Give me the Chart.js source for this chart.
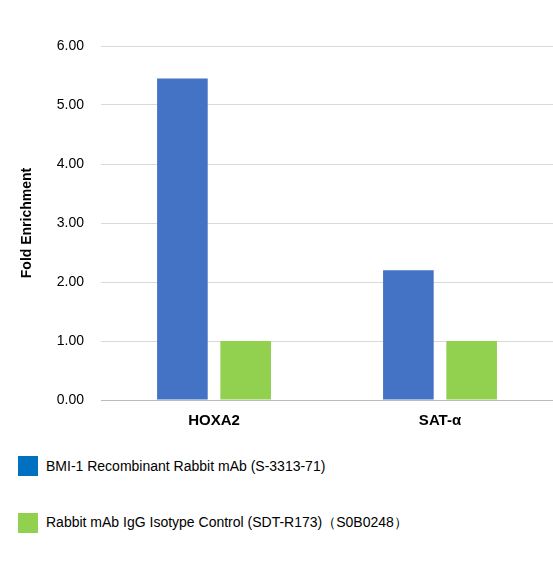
<!DOCTYPE html>
<html><head><meta charset="utf-8">
<script src="https://cdn.jsdelivr.net/npm/chart.js@4"></script>
<style>
body{margin:0;background:#fff;font-family:Arial,"Liberation Sans",sans-serif;}
#wrap{position:absolute;left:0;top:0;width:553px;height:434px;}
.leg{position:absolute;left:18px;font-size:14px;color:#000;display:flex;align-items:center;}
.sw{width:20px;height:20px;margin-right:8px;}
</style></head><body>
<div id="wrap"><canvas id="c"></canvas></div>
<div class="leg" style="top:456px"><div class="sw" style="background:#0070C0"></div><span id="l0"></span></div>
<div class="leg" style="top:513px"><div class="sw" style="background:#92D050"></div><span id="l1"></span></div>
<script>
const categories=["HOXA2","SAT-α"];
const seriesNames=["BMI-1 Recombinant Rabbit mAb (S-3313-71)","Rabbit mAb IgG Isotype Control (SDT-R173)（S0B0248）"];
const bmi1=[5.45,2.2];
const igg=[1.0,1.0];
document.getElementById('l0').textContent=seriesNames[0];
document.getElementById('l1').textContent=seriesNames[1];
new Chart(document.getElementById('c'),{type:'bar',
data:{labels:categories,datasets:[
{label:seriesNames[0],data:bmi1,backgroundColor:'#4472C4',barPercentage:0.8,categoryPercentage:0.56},
{label:seriesNames[1],data:igg,backgroundColor:'#92D050',barPercentage:0.8,categoryPercentage:0.56}]},
options:{responsive:true,maintainAspectRatio:false,animation:false,
layout:{padding:{top:46,right:0,left:15,bottom:0}},
plugins:{legend:{display:false},tooltip:{enabled:false}},
scales:{
x:{grid:{display:false},border:{color:'#bbb'},ticks:{color:'#000',font:{size:15,weight:'bold',family:'Arial'},padding:4}},
y:{min:0,max:6,ticks:{stepSize:1,color:'#000',font:{size:14,family:'Arial'},padding:17,callback:v=>v.toFixed(2)},
grid:{color:'#d9d9d9',drawTicks:false},border:{display:false},
title:{display:true,text:'Fold Enrichment',color:'#000',font:{size:14,weight:'bold',family:'Arial'}}}}}});
</script></body></html>
